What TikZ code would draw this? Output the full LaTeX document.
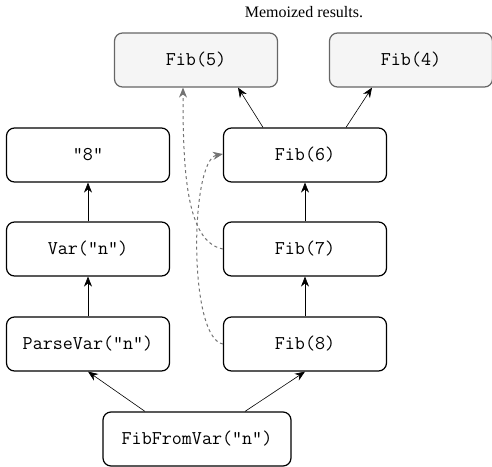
\documentclass[tikz,border=0pt]{standalone}
\usepackage{fontspec}
\setmainfont{Liberation Serif}
\usetikzlibrary{arrows.meta,calc}

\begin{document}
\begin{tikzpicture}[x=1pt,y=-1pt,>={Stealth[length=10pt,width=8pt]},semithick,
  call/.style={draw,rounded corners=8pt,line width=1.2pt,minimum width=163pt,minimum height=54pt,font=\ttfamily\fontsize{19.5}{22}\selectfont},
  memo/.style={call,draw=black!60,fill=black!4},
  reuse/.style={->,dashed,draw=black!55,line width=1pt}]
\useasboundingbox (0,0) rectangle (492,466);
\node (title) at (304,12) {\fontsize{16}{18}\selectfont Memoized results.};
\node[memo] (f5) at (196,60) {Fib(5)};
\node[memo] (f4) at (411,60) {Fib(4)};
\node[call] (s8) at (88,155) {"8"};
\node[call] (f6) at (305,155) {Fib(6)};
\node[call] (var) at (88,249) {Var("n")};
\node[call] (f7) at (305,249) {Fib(7)};
\node[call] (parse) at (88,344) {ParseVar("n")};
\node[call] (f8) at (305,344) {Fib(8)};
\node[call,minimum width=188pt] (main) at (197,439) {FibFromVar("n")};

\path[->] ([xshift=-52pt]main.north) edge (parse.south);
\path[->] ([xshift=48pt]main.north) edge (f8.south);
\path[->] (parse) edge (var);
\path[->] (var) edge (s8);
\path[->] (f8) edge (f7);
\path[->] (f7) edge (f6);
\path[->] ([xshift=-42pt]f6.north) edge ([xshift=42pt]f5.south);
\path[->] ([xshift=41pt]f6.north) edge ([xshift=-39pt]f4.south);

% memoized lookups
\draw[reuse] (f7.west) .. controls (186,242) and (183,170) .. ([xshift=-13pt]f5.south);
\draw[reuse] (f8.west) .. controls (188,338) and (190,160) .. ([yshift=1pt]f6.west);
\end{tikzpicture}
\end{document}
